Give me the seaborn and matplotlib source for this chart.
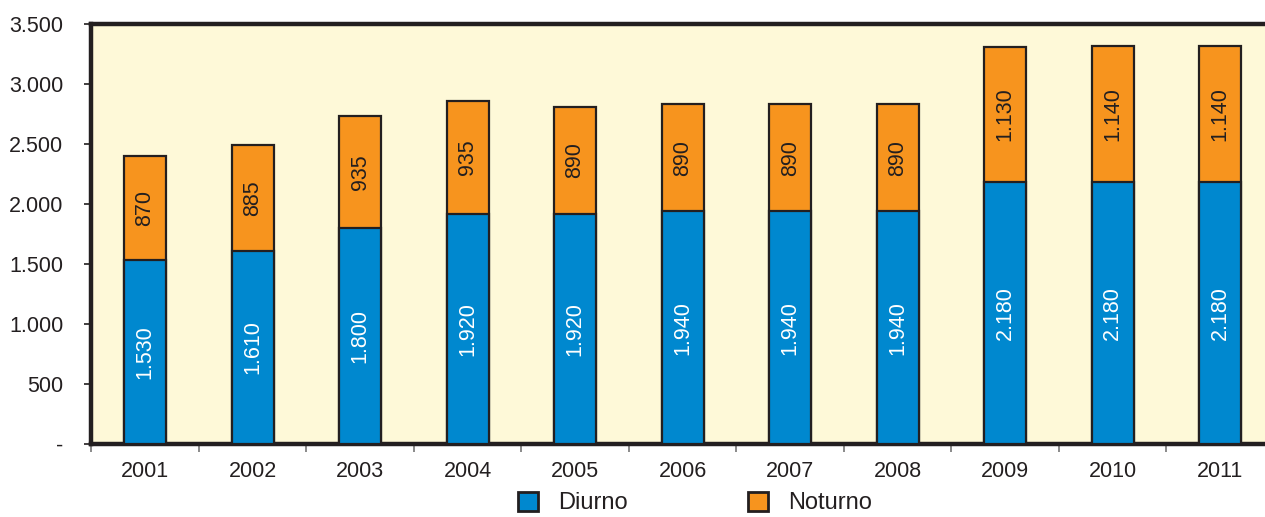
import matplotlib
matplotlib.use("Agg")
import matplotlib.pyplot as plt
import seaborn as sns
import pandas as pd
import numpy as np
from matplotlib.patches import Patch
from matplotlib.ticker import FuncFormatter, FixedLocator

years = ["2001", "2002", "2003", "2004", "2005", "2006", "2007", "2008", "2009", "2010", "2011"]
diurno = [1530, 1610, 1800, 1920, 1920, 1940, 1940, 1940, 2180, 2180, 2180]
noturno = [870, 885, 935, 935, 890, 890, 890, 890, 1130, 1140, 1140]
yticks = [0, 500, 1000, 1500, 2000, 2500, 3000, 3500]

BLUE = "#0088CF"
ORANGE = "#F7941E"
BG = "#FEF9D8"
DARK = "#231F20"

sns.set_theme(style="white")
plt.rcParams["font.family"] = ["Liberation Sans", "DejaVu Sans"]

df = pd.DataFrame({"ano": years, "Diurno": diurno, "Noturno": noturno})
df["Total"] = df["Diurno"] + df["Noturno"]

fig = plt.figure(figsize=(12.65, 5.17), dpi=100)
W, H = 1265, 517
ax = fig.add_axes([91.25 / W, (H - 444) / H, (1274 - 91.25) / W, (444 - 24) / H])
ax.set_facecolor(BG)

bw = 0.39
sns.barplot(data=df, x="ano", y="Total", color=ORANGE, saturation=1, width=bw,
            edgecolor=DARK, linewidth=1.6, ax=ax, zorder=2)
sns.barplot(data=df, x="ano", y="Diurno", color=BLUE, saturation=1, width=bw,
            edgecolor=DARK, linewidth=1.6, ax=ax, zorder=3)

def fmt(v):
    return f"{int(v):,}".replace(",", ".")

for i in range(len(years)):
    d, n = diurno[i], noturno[i]
    ax.text(i, d / 2, fmt(d), rotation=90, ha="center", va="center",
            color="white", fontsize=15.5, zorder=5)
    ax.text(i, d + n / 2, fmt(n), rotation=90, ha="center", va="center",
            color=DARK, fontsize=15.5, zorder=5)

ax.set_xlim(-0.5, len(years) - 0.5)
ax.set_ylim(0, 3500)
ax.yaxis.set_major_locator(FixedLocator(yticks))
ax.yaxis.set_major_formatter(FuncFormatter(lambda v, p: "-" if v == 0 else fmt(v)))
ax.set_xlabel("")
ax.set_ylabel("")

ax.tick_params(axis="y", which="major", left=True, length=5, width=1.2, color=DARK,
               pad=15, labelsize=15.5, labelcolor=DARK, direction="out")
ax.tick_params(axis="x", which="major", bottom=False, length=0, pad=12,
               labelsize=15.5, labelcolor=DARK)
ax.set_xticks(np.arange(-0.5, len(years), 1.0), minor=True)
ax.tick_params(axis="x", which="minor", bottom=True, length=6, width=1.2,
               color="#777777", direction="out")

for s in ["left", "top", "bottom"]:
    ax.spines[s].set_visible(True)
    ax.spines[s].set_color(DARK)
    ax.spines[s].set_linewidth(3.2)
ax.spines["right"].set_visible(False)

handles = [Patch(facecolor=BLUE, edgecolor=DARK, linewidth=2, label="Diurno"),
           Patch(facecolor=ORANGE, edgecolor=DARK, linewidth=2, label="Noturno")]
fig.legend(handles=handles, loc="center", bbox_to_anchor=(695 / W, 1 - 503 / H),
           ncol=2, frameon=False, fontsize=17, handlelength=0.85, handleheight=0.85,
           handletextpad=0.85, columnspacing=5.1, labelcolor=DARK,
           borderaxespad=0, borderpad=0)

fig.savefig("out.png", dpi=100, facecolor="white")
